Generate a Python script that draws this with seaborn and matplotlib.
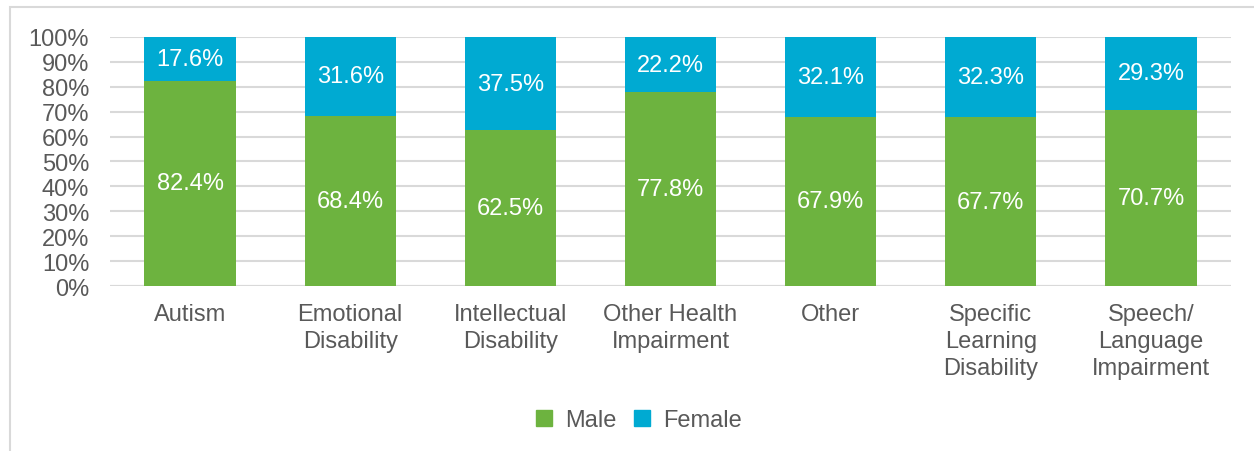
import numpy as np
import pandas as pd
import seaborn as sns
import matplotlib.pyplot as plt
from matplotlib.lines import Line2D
from matplotlib.patches import Rectangle

categories = ["Autism", "Emotional\nDisability", "Intellectual\nDisability",
              "Other Health\nImpairment", "Other", "Specific\nLearning\nDisability",
              "Speech/\nLanguage\nImpairment"]
male = [82.4, 68.4, 62.5, 77.8, 67.9, 67.7, 70.7]
female = [17.6, 31.6, 37.5, 22.2, 32.1, 32.3, 29.3]

df = pd.DataFrame({"category": categories, "male": male, "female": female})
df["total"] = df["male"] + df["female"]

green = "#6DB33F"
blue = "#00AAD2"
grey_text = "#595959"
grid_col = "#D9D9D9"

sns.set_theme(style="white")
plt.rcParams["font.family"] = ["Liberation Sans", "DejaVu Sans"]

fig = plt.figure(figsize=(12.54, 4.52), dpi=100)
ax = fig.add_axes([0.0877, 0.365, 0.894, 0.551])

sns.barplot(data=df, x="category", y="total", color=blue, width=0.57,
            saturation=1, ax=ax, zorder=3, linewidth=0)
sns.barplot(data=df, x="category", y="male", color=green, width=0.57,
            saturation=1, ax=ax, zorder=3, linewidth=0)

for i, (m, f) in enumerate(zip(male, female)):
    ax.text(i, m / 2, f"{m:.1f}%", ha="center", va="center", color="white",
            fontsize=17, zorder=4)
    ax.text(i, m + f / 2, f"{f:.1f}%", ha="center", va="center", color="white",
            fontsize=17, zorder=4)

ax.set_ylim(0, 100)
ax.set_xlim(-0.5, len(categories) - 0.5)
ax.set_yticks(np.arange(0, 101, 10))
ax.set_yticklabels([f"{v}%" for v in range(0, 101, 10)])
ax.yaxis.grid(True, color=grid_col, linewidth=1.5, zorder=0)
ax.set_axisbelow(True)
for s in ax.spines.values():
    s.set_visible(False)
ax.axhline(0, color=grid_col, linewidth=1.5, zorder=2)
ax.set_xlabel("")
ax.set_ylabel("")
ax.tick_params(axis="both", length=0, labelsize=17, colors=grey_text)
ax.tick_params(axis="x", pad=12)
ax.tick_params(axis="y", pad=15)
for lbl in ax.get_xticklabels():
    lbl.set_linespacing(1.3)

handles = [Line2D([], [], marker="s", linestyle="", color=green, markersize=11),
           Line2D([], [], marker="s", linestyle="", color=blue, markersize=11)]
fig.legend(handles, ["Male", "Female"], loc="center", bbox_to_anchor=(0.508, 0.068),
           ncol=2, frameon=False, fontsize=17, labelcolor=grey_text,
           handlelength=1.0, handletextpad=0.4, columnspacing=0.6)

fig.add_artist(Rectangle((10 / 1254, -0.1), 1.2, 1.1 - 8 / 452,
                         transform=fig.transFigure, fill=False,
                         edgecolor=grid_col, linewidth=1.5, clip_on=False))

fig.savefig("out.png", dpi=100)
